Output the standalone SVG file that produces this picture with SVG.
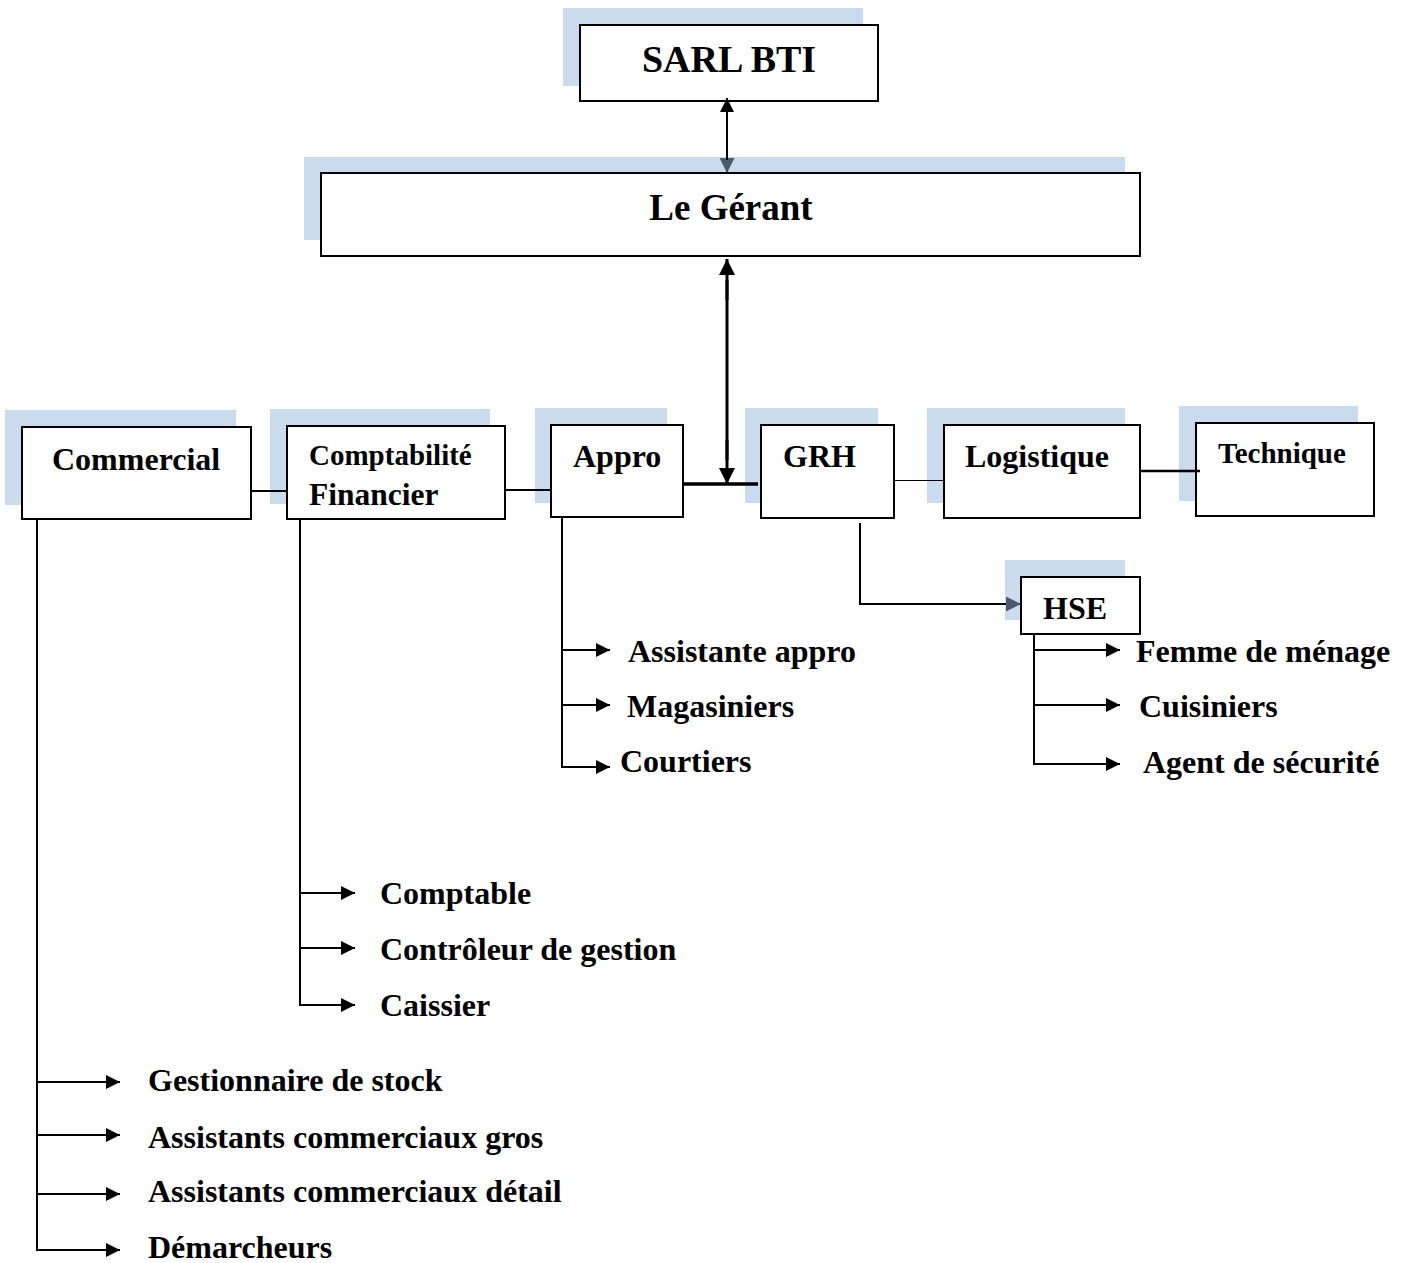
<svg xmlns="http://www.w3.org/2000/svg" width="1408" height="1263" viewBox="0 0 1408 1263">
<defs>
<style>
.sh{fill:#c9dbed;stroke:none}
.bx{fill:#fff;stroke:#000;stroke-width:2}
.t{font-family:"Liberation Serif","Times New Roman",serif;font-weight:bold;fill:#000}
.c{font-size:32px}
.ln{fill:none;stroke:#000;stroke-width:2}
</style>
<marker id="ahb" viewBox="0 0 10 10" refX="10" refY="5" markerWidth="14" markerHeight="14" markerUnits="userSpaceOnUse" orient="auto"><path d="M0,0 L10,5 L0,10 z" fill="#000"/></marker>
<marker id="ahg" viewBox="0 0 10 10" refX="10" refY="5" markerWidth="15" markerHeight="15" markerUnits="userSpaceOnUse" orient="auto"><path d="M0,0 L10,5 L0,10 z" fill="#4b5b6b"/></marker>
<marker id="ahc" viewBox="0 0 10 10" refX="10" refY="5" markerWidth="16" markerHeight="16" markerUnits="userSpaceOnUse" orient="auto"><path d="M0,0 L10,5 L0,10 z" fill="#000"/></marker>
</defs>

<g id="sarl">
<rect class="sh" x="563" y="8" width="300" height="78"/>
<rect class="bx" x="580" y="25" width="298" height="76"/>
<text class="t" x="729" y="72" font-size="38" text-anchor="middle">SARL BTI</text>
</g>
<g id="gerant">
<rect class="sh" x="304" y="157" width="821" height="83"/>
<rect class="bx" x="321" y="173" width="819" height="83"/>
<text class="t" x="731" y="220" font-size="37" text-anchor="middle">Le Gérant</text>
</g>
<g id="commercial">
<rect class="sh" x="5" y="410" width="231" height="95"/>
<rect class="bx" x="22" y="427" width="229" height="92"/>
<text class="t" x="52" y="470" font-size="32">Commercial</text>
</g>
<g id="comptabilite">
<rect class="sh" x="270" y="409" width="220" height="95"/>
<rect class="bx" x="287" y="426" width="218" height="93"/>
<text class="t" x="309" y="465" font-size="29">Comptabilité</text>
<text class="t" x="309" y="505" font-size="31.5">Financier</text>
</g>
<g id="appro">
<rect class="sh" x="535" y="408" width="132" height="95"/>
<rect class="bx" x="551" y="425" width="132" height="92"/>
<text class="t" x="573" y="467" font-size="32">Appro</text>
</g>
<g id="grh">
<rect class="sh" x="745" y="408" width="133" height="95"/>
<rect class="bx" x="761" y="425" width="133" height="93"/>
<text class="t" x="783" y="467" font-size="32">GRH</text>
</g>
<g id="logistique">
<rect class="sh" x="927" y="408" width="198" height="95"/>
<rect class="bx" x="944" y="425" width="196" height="93"/>
<text class="t" x="965" y="467" font-size="32">Logistique</text>
</g>
<g id="technique">
<rect class="sh" x="1179" y="406" width="179" height="95"/>
<rect class="bx" x="1196" y="423" width="178" height="93"/>
<text class="t" x="1218" y="463" font-size="29">Technique</text>
</g>
<g id="hse">
<rect class="sh" x="1005" y="560" width="120" height="60"/>
<rect class="bx" x="1021" y="577" width="119" height="57"/>
<text class="t" x="1043" y="619" font-size="32">HSE</text>
</g>

<g id="connectors">
<line class="ln" x1="727" y1="112" x2="727" y2="173" marker-end="url(#ahg)"/>
<line class="ln" x1="727" y1="160" x2="727" y2="98" marker-end="url(#ahb)"/>
<line x1="727" y1="300" x2="727" y2="259" stroke="#000" stroke-width="3" marker-end="url(#ahc)"/>
<line x1="727" y1="440" x2="727" y2="484" stroke="#000" stroke-width="3" marker-end="url(#ahc)"/>
<line x1="727" y1="280" x2="727" y2="460" stroke="#000" stroke-width="3"/>
<line x1="683" y1="484" x2="758" y2="484" stroke="#000" stroke-width="3.5"/>
<line class="ln" x1="251" y1="491" x2="287" y2="491"/>
<line class="ln" x1="505" y1="490" x2="551" y2="490"/>
<line x1="894" y1="480.5" x2="944" y2="480.5" stroke="#000" stroke-width="1"/>
<line x1="1140" y1="471" x2="1200" y2="471" stroke="#000" stroke-width="2.5"/>
<polyline class="ln" points="860,523 860,604 1021,604" marker-end="url(#ahg)"/>
<line class="ln" x1="1034" y1="634" x2="1034" y2="764"/>
<line class="ln" x1="1034" y1="650" x2="1120" y2="650" marker-end="url(#ahb)"/>
<line class="ln" x1="1034" y1="705" x2="1120" y2="705" marker-end="url(#ahb)"/>
<line class="ln" x1="1033" y1="764" x2="1120" y2="764" marker-end="url(#ahb)"/>
<line class="ln" x1="562" y1="517" x2="562" y2="768"/>
<line class="ln" x1="562" y1="650" x2="610" y2="650" marker-end="url(#ahb)"/>
<line class="ln" x1="562" y1="705" x2="610" y2="705" marker-end="url(#ahb)"/>
<line class="ln" x1="561" y1="767" x2="610" y2="767" marker-end="url(#ahb)"/>
<line class="ln" x1="300" y1="519" x2="300" y2="1006"/>
<line class="ln" x1="300" y1="893" x2="355" y2="893" marker-end="url(#ahb)"/>
<line class="ln" x1="300" y1="948" x2="355" y2="948" marker-end="url(#ahb)"/>
<line class="ln" x1="299" y1="1005" x2="355" y2="1005" marker-end="url(#ahb)"/>
<line class="ln" x1="37" y1="519" x2="37" y2="1251"/>
<line class="ln" x1="37" y1="1082" x2="120" y2="1082" marker-end="url(#ahb)"/>
<line class="ln" x1="37" y1="1135" x2="120" y2="1135" marker-end="url(#ahb)"/>
<line class="ln" x1="37" y1="1194" x2="120" y2="1194" marker-end="url(#ahb)"/>
<line class="ln" x1="36" y1="1250" x2="120" y2="1250" marker-end="url(#ahb)"/>
</g>

<g id="hse-items">
<text class="t c" x="1136" y="662">Femme de ménage</text>
<text class="t c" x="1139" y="717">Cuisiniers</text>
<text class="t c" x="1143" y="773">Agent de sécurité</text>
</g>
<g id="appro-items">
<text class="t c" x="628" y="662">Assistante appro</text>
<text class="t c" x="627" y="717">Magasiniers</text>
<text class="t c" x="620" y="772">Courtiers</text>
</g>
<g id="compta-items">
<text class="t c" x="380" y="904">Comptable</text>
<text class="t c" x="380" y="960">Contrôleur de gestion</text>
<text class="t c" x="380" y="1016">Caissier</text>
</g>
<g id="commercial-items">
<text class="t c" x="148" y="1091">Gestionnaire de stock</text>
<text class="t c" x="148" y="1148">Assistants commerciaux gros</text>
<text class="t c" x="148" y="1202">Assistants commerciaux détail</text>
<text class="t c" x="148" y="1258">Démarcheurs</text>
</g>
</svg>
